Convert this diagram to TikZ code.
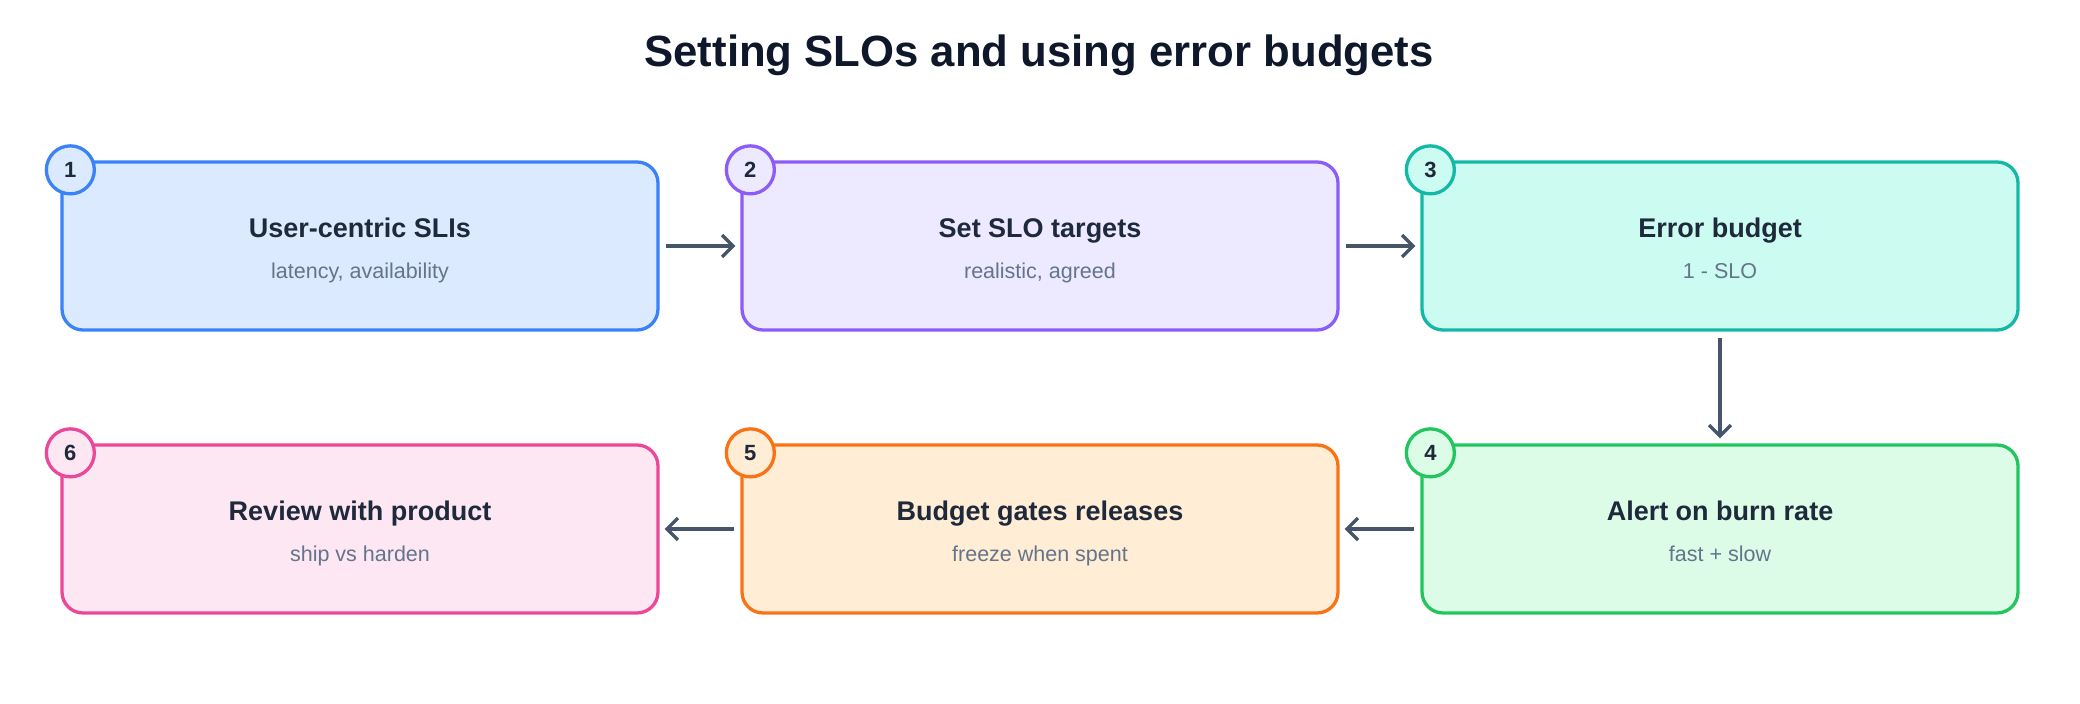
\documentclass[tikz,border=0pt]{standalone}
\usepackage{fontspec}
\setmainfont{Liberation Sans}
\usetikzlibrary{arrows.meta,calc}
\definecolor{titlec}{HTML}{0F172A}
\definecolor{headc}{HTML}{1E293B}
\definecolor{subc}{HTML}{64748B}
\definecolor{arrc}{HTML}{475569}
\definecolor{bA}{HTML}{3B82F6}\definecolor{fA}{HTML}{DBEAFE}
\definecolor{bB}{HTML}{8B5CF6}\definecolor{fB}{HTML}{EDE9FE}
\definecolor{bC}{HTML}{14B8A6}\definecolor{fC}{HTML}{CCFBF1}
\definecolor{bD}{HTML}{22C55E}\definecolor{fD}{HTML}{DCFCE7}
\definecolor{bE}{HTML}{F97316}\definecolor{fE}{HTML}{FFEDD5}
\definecolor{bF}{HTML}{EC4899}\definecolor{fF}{HTML}{FCE7F3}
\tikzset{
  stepbox/.style={draw, line width=3.3pt, rounded corners=21pt, minimum width=596pt, minimum height=168pt, inner sep=0pt},
  badge/.style={circle, draw, line width=3.3pt, minimum size=48pt, inner sep=0pt, font=\fontsize{22}{22}\selectfont\bfseries, text=headc},
  head/.style={font=\fontsize{27}{30}\selectfont\bfseries, text=headc, anchor=base},
  sub/.style={font=\fontsize{21.5}{24}\selectfont, text=subc, anchor=base},
  flow/.style={draw=arrc, line width=3.3pt, -{Straight Barb[length=11pt,width=22pt,line width=3.3pt]}}
}
\begin{document}
\begin{tikzpicture}[x=1pt,y=-1pt]
\useasboundingbox (0,0) rectangle (2080,704);
\node[font=\fontsize{43.7}{46}\selectfont\bfseries, text=titlec, anchor=base] (title) at (1039,66.7) {Setting SLOs and using error budgets};
% row 1
\node[stepbox, draw=bA, fill=fA] (b1) at (360,246) {};
\node[stepbox, draw=bB, fill=fB] (b2) at (1040,246) {};
\node[stepbox, draw=bC, fill=fC] (b3) at (1720,246) {};
% row 2
\node[stepbox, draw=bF, fill=fF] (b6) at (360,529) {};
\node[stepbox, draw=bE, fill=fE] (b5) at (1040,529) {};
\node[stepbox, draw=bD, fill=fD] (b4) at (1720,529) {};
% texts
\foreach \n/\h/\s in {b1/User-centric SLIs/{latency, availability}, b2/Set SLO targets/{realistic, agreed}, b3/Error budget/1 - SLO, b4/Alert on burn rate/fast + slow, b5/Budget gates releases/freeze when spent, b6/Review with product/ship vs harden}{
  \node[head] (\n h) at ($(\n.center)+(0,-9)$) {\h};
  \node[sub] (\n s) at ($(\n.center)+(0,32)$) {\s};
}
% badges
\node[badge, draw=bA, fill=fA] (c1) at ($(b1.north west)+(10,9.5)$) {1};
\node[badge, draw=bB, fill=fB] (c2) at ($(b2.north west)+(10,9.5)$) {2};
\node[badge, draw=bC, fill=fC] (c3) at ($(b3.north west)+(10,9.5)$) {3};
\node[badge, draw=bD, fill=fD] (c4) at ($(b4.north west)+(10,9.5)$) {4};
\node[badge, draw=bE, fill=fE] (c5) at ($(b5.north west)+(10,9.5)$) {5};
\node[badge, draw=bF, fill=fF] (c6) at ($(b6.north west)+(10,9.5)$) {6};
% arrows
\draw[flow] ([xshift=6pt]b1.east) -- ([xshift=-5pt]b2.west);
\draw[flow] ([xshift=6pt]b2.east) -- ([xshift=-5pt]b3.west);
\draw[flow] ([yshift=-6pt]b3.south) -- ([yshift=5pt]b4.north);
\draw[flow] ([xshift=-6pt]b4.west) -- ([xshift=5pt]b5.east);
\draw[flow] ([xshift=-6pt]b5.west) -- ([xshift=5pt]b6.east);
\end{tikzpicture}
\end{document}
